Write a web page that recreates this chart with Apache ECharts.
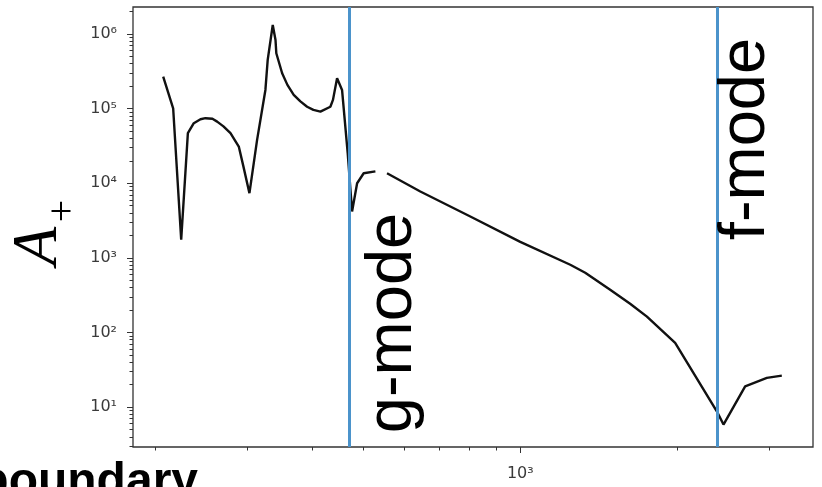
<!DOCTYPE html>
<html><head><meta charset="utf-8">
<script src="https://cdn.jsdelivr.net/npm/echarts@6/dist/echarts.min.js"></script>
<style>html,body{margin:0;padding:0;background:#fff}#c{width:822px;height:487px}</style>
</head><body><div id="c"></div>
<script>
// ---- data ----
const freqLow = [206.8, 216.1, 223.9, 230.6, 236.7, 243.8, 249.2, 257.0, 262.4, 269.8, 278.3, 288.7, 294.7, 302.6, 313.0, 324.7, 328.0, 335.4, 339.5, 340.7, 349.6, 357.8, 367.9, 378.9, 390.3, 401.3, 413.9, 432.5, 437.5, 445.5, 455.4, 466.9, 476.0, 486.7, 501.0, 527.6];
const ampLow  = [2.68e5, 1.01e5, 1746, 4.69e4, 6.38e4, 7.2e4, 7.44e4, 7.3e4, 6.70e4, 5.78e4, 4.69e4, 3.10e4, 1.67e4, 7.36e3, 3.81e4, 1.78e5, 4.49e5, 1.32e6, 8.31e5, 5.52e5, 2.98e5, 2.08e5, 1.53e5, 1.25e5, 1.06e5, 9.62e4, 9.12e4, 1.06e5, 1.31e5, 2.55e5, 1.78e5, 2.53e4, 4.18e3, 1.00e4, 1.36e4, 1.44e4];
const freqHigh = [555.4, 643.3, 802.1, 1000, 1247, 1332, 1487, 1624, 1749, 1981, 2381, 2452, 2698, 2969, 3172];
const ampHigh  = [1.36e4, 7.74e3, 3.58e3, 1.64e3, 809, 632, 374, 243, 163, 72.3, 8.79, 5.84, 19.0, 24.6, 26.4];
const modeFreqs = [470, 2383];
const modeNames = ['g-mode', 'f-mode'];
const xRange = [181, 3640];
const yRange = [2.92, 2.3e6];
const xMajorTicks = [1000];
const xMinorTicks = [200, 300, 400, 500, 600, 700, 800, 900, 2000, 3000];
const yMajorTicks = [10, 100, 1000, 10000, 100000, 1000000];
const yMinorTicks = [3, 4, 5, 6, 7, 8, 9,
  20, 30, 40, 50, 60, 70, 80, 90,
  200, 300, 400, 500, 600, 700, 800, 900,
  2000, 3000, 4000, 5000, 6000, 7000, 8000, 9000,
  20000, 30000, 40000, 50000, 60000, 70000, 80000, 90000,
  200000, 300000, 400000, 500000, 600000, 700000, 800000, 900000, 2000000];
const yLabelMain = 'A';
const yLabelSub = '+';
const cornerText = 'boundary';

// ---- chart ----
const sup = {'0':'⁰','1':'¹','2':'²','3':'³','4':'⁴','5':'⁵','6':'⁶','7':'⁷','8':'⁸','9':'⁹','-':'⁻'};
function pow10Label(v) {
  const e = Math.round(Math.log10(v));
  return '10' + String(e).split('').map(c => sup[c]).join('');
}
const tickColor = '#333';
const lbl = {color: '#3a3a3a', fontFamily: 'DejaVu Sans', fontSize: 16};

function pairs(xs, ys) { return xs.map((x, i) => [x, ys[i]]); }

const chart = echarts.init(document.getElementById('c'), null, {renderer: 'canvas'});
chart.setOption({
  animation: false,
  grid: {left: 133, right: 9, top: 7, bottom: 40, show: true, borderColor: '#333', borderWidth: 1.3, backgroundColor: 'transparent'},
  xAxis: [
    {type: 'log', logBase: 10, min: xRange[0], max: xRange[1], position: 'bottom',
     axisLine: {show: false}, splitLine: {show: false}, minorTick: {show: false},
     axisTick: {show: true, inside: false, length: 6, customValues: xMajorTicks, lineStyle: {color: tickColor, width: 1}},
     axisLabel: Object.assign({show: true, customValues: xMajorTicks, formatter: pow10Label, margin: 19}, lbl)},
    {type: 'log', logBase: 10, min: xRange[0], max: xRange[1], position: 'bottom', offset: 0,
     axisLine: {show: false}, splitLine: {show: false},
     axisTick: {show: true, inside: false, length: 3.5, customValues: xMinorTicks, lineStyle: {color: tickColor, width: 1}},
     axisLabel: {show: false}}
  ],
  yAxis: [
    {type: 'log', logBase: 10, min: yRange[0], max: yRange[1], position: 'left',
     axisLine: {show: false}, splitLine: {show: false},
     axisTick: {show: true, inside: false, length: 6, customValues: yMajorTicks, lineStyle: {color: tickColor, width: 1}},
     axisLabel: Object.assign({show: true, customValues: yMajorTicks, formatter: pow10Label, margin: 16}, lbl)},
    {type: 'log', logBase: 10, min: yRange[0], max: yRange[1], position: 'left', offset: 0,
     axisLine: {show: false}, splitLine: {show: false},
     axisTick: {show: true, inside: false, length: 3.5, customValues: yMinorTicks, lineStyle: {color: tickColor, width: 1}},
     axisLabel: {show: false}}
  ],
  series: [
    {type: 'line', xAxisIndex: 0, yAxisIndex: 0, data: pairs(freqLow, ampLow), symbol: 'none', smooth: false,
     lineStyle: {color: '#111', width: 2.4}, z: 3},
    {type: 'line', xAxisIndex: 0, yAxisIndex: 0, data: pairs(freqHigh, ampHigh), symbol: 'none', smooth: false,
     lineStyle: {color: '#111', width: 2.4}, z: 3},
    {type: 'line', xAxisIndex: 0, yAxisIndex: 0, data: [], z: 5,
     markLine: {silent: true, symbol: ['none', 'none'], label: {show: false},
       lineStyle: {color: '#4b93cb', width: 3, type: 'solid'},
       data: modeFreqs.map(v => ({xAxis: v}))}}
  ]
});

// ---- text annotations ----
const offsets = [44, 29];
const centersY = [323, 139];
const graphics = modeFreqs.map((f, i) => {
  const px = chart.convertToPixel({xAxisIndex: 0}, f);
  return {type: 'text', x: px + offsets[i], y: centersY[i], rotation: Math.PI / 2, z: 10,
    style: {text: modeNames[i], font: '65px "Liberation Sans", Arial, sans-serif', fill: '#000',
      align: 'center', verticalAlign: 'middle', textAlign: 'center', textVerticalAlign: 'middle'}};
});
graphics.push({type: 'text', x: 39, y: 246, rotation: Math.PI / 2, z: 10,
  style: {text: yLabelMain, font: 'italic 63px "Liberation Serif", serif', fill: '#000',
    align: 'center', verticalAlign: 'middle', textAlign: 'center', textVerticalAlign: 'middle'}});
graphics.push({type: 'text', x: 63, y: 211, rotation: Math.PI / 2, z: 10,
  style: {text: yLabelSub, font: '40px "Liberation Serif", serif', fill: '#000',
    align: 'center', verticalAlign: 'middle', textAlign: 'center', textVerticalAlign: 'middle'}});
graphics.push({type: 'text', x: 198, y: 483, z: 10,
  style: {text: cornerText, font: 'bold 48px "Liberation Sans", Arial, sans-serif', fill: '#000',
    align: 'right', verticalAlign: 'middle', textAlign: 'right', textVerticalAlign: 'middle'}});
chart.setOption({graphic: graphics});
</script>
</body></html>
